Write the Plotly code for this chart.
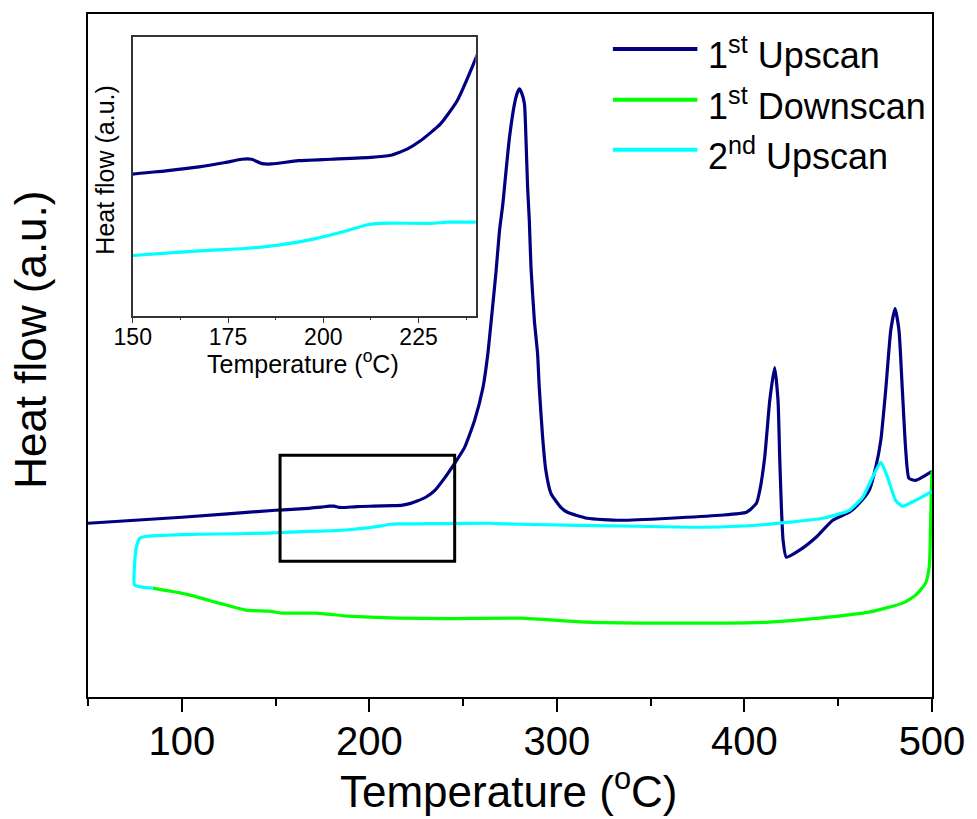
import plotly.graph_objects as go

# ---------------- data ----------------
# 1st Upscan
navy_x = [50, 100, 150, 158.7, 167.4, 174.3, 178.6, 181.2, 183.9, 186.5, 193.4, 202.1, 212.5, 217.7,
          222.0, 225.5, 230.7, 235.1, 239.4, 245.5, 250.8, 256.1, 260.6, 263.2, 265.0, 267.6, 269.4,
          271.2, 272.9, 274.7, 277.4, 278.9, 280.0, 281.2, 282.7, 283.5, 284.4, 285.3, 286.2, 288.0,
          289.7, 290.6, 292.4, 294.1, 296.8, 302.1, 305.6, 316.2, 333.7, 360.3, 386.8, 401.1, 406.4,
          408.2, 410.8, 413.5, 416.1, 417.9, 418.8, 419.7, 420.6, 422.3, 429.4, 438.2, 447.1, 455.9,
          461.2, 466.5, 470.0, 472.7, 475.3, 478.0, 480.3, 482.4, 484.2, 486.0, 487.7, 491.3, 500.0]
navy_y = [17.4, 18.0, 18.70, 18.79, 18.90, 19.02, 19.11, 19.11, 18.99, 18.98, 19.07, 19.11, 19.16, 19.22,
          19.39, 19.62, 20.08, 20.72, 21.74, 23.4, 25.0, 27.7, 31.0, 34.4, 37.7, 42.7, 46.7,
          49.4, 52.7, 56.0, 59.4, 60.5, 60.9, 60.5, 59.4, 56.0, 51.0, 47.7, 43.0, 37.7,
          34.4, 31.0, 26.0, 22.7, 20.4, 19.0, 18.5, 17.9, 17.7, 17.9, 18.2, 18.5, 19.4,
          20.7, 24.0, 29.7, 33.0, 29.7, 24.0, 19.0, 15.7, 14.0, 14.7, 16.0, 17.7, 18.5,
          19.4, 20.7, 23.0, 25.7, 30.7, 36.7, 38.9, 36.7, 30.7, 24.7, 21.9, 21.7, 22.6]

# 1st Downscan (recorded from 500 down to ~85)
green_x = [500, 499.5, 499.0, 498.5, 496.6, 491.3, 484.4, 466.3, 439.8, 413.3, 386.8, 351.8, 316.2,
           280.7, 242.0, 215.5, 189.0, 171.5, 153.4, 146.5, 134.2, 120.0, 102.3, 84.6]
green_y = [22.6, 19.5, 15.0, 13.0, 11.4, 10.2, 9.4, 8.5, 7.9, 7.5, 7.4, 7.4, 7.5,
           7.9, 7.85, 7.9, 8.1, 8.4, 8.4, 8.6, 8.7, 9.4, 10.3, 10.9]

# 2nd Upscan
cyan_x = [84.6, 74.9, 74.9, 75.8, 77.6, 81.1, 91.7, 109.4, 130.6, 146.5, 150, 167.4, 180.4, 189.1,
          197.7, 206.4, 211.6, 215.1, 228.1, 232.5, 239.4, 263.2, 280.7, 342.8, 378.3, 406.4, 441.8,
          455.9, 463.0, 468.3, 472.7, 476.3, 480.6, 484.2, 491.3, 500]
cyan_y = [10.9, 11.2, 13.4, 15.0, 15.9, 16.1, 16.2, 16.3, 16.35, 16.42, 16.45, 16.58, 16.65, 16.75,
          16.91, 17.14, 17.30, 17.34, 17.34, 17.37, 17.37, 17.4, 17.3, 17.1, 17.0, 17.2, 17.9,
          18.7, 20.0, 22.0, 23.5, 22.0, 19.7, 19.1, 19.7, 20.6]

series_names = ["1<sup>st</sup> Upscan", "1<sup>st</sup> Downscan", "2<sup>nd</sup> Upscan"]
series_colors = ["#000080", "#00FF00", "#00FFFF"]

main_xticks = [100, 200, 300, 400, 500]
main_xminor = [50, 150, 250, 350, 450]
inset_xticks = [150, 175, 200, 225]
inset_xminor = [162.5, 187.5, 212.5, 237.5]

x_title = "Temperature (<sup>o</sup>C)"
y_title = "Heat flow (a.u.)"

# zoom box region (data coords)
box_x = [152.4, 245.5]
box_y = [13.6, 24.2]

FONT = "Liberation Sans, Arial, sans-serif"

fig = go.Figure()

series = [(navy_x, navy_y), (green_x, green_y), (cyan_x, cyan_y)]
for (xs, ys), name, col in zip(series, series_names, series_colors):
    fig.add_trace(go.Scatter(x=xs, y=ys, mode="lines", name=name,
                             line=dict(color=col, width=3.2, shape="spline", smoothing=0.5),
                             showlegend=False, xaxis="x", yaxis="y"))

# inset traces (same data, zoomed)
for (xs, ys), col in [((navy_x, navy_y), series_colors[0]), ((cyan_x, cyan_y), series_colors[2])]:
    fig.add_trace(go.Scatter(x=xs, y=ys, mode="lines",
                             line=dict(color=col, width=3.2, shape="spline", smoothing=0.5),
                             showlegend=False, xaxis="x2", yaxis="y2"))

# plot-area geometry
W, H = 977, 819
L, R, T, B = 88, 40, 13, 122
PW, PH = W - L - R, H - T - B

def px(x):
    return (x - L) / PW

def py(y):
    return (H - B - y) / PH

fig.update_layout(
    width=W, height=H,
    margin=dict(l=L, r=R, t=T, b=B),
    paper_bgcolor="white", plot_bgcolor="white",
    font=dict(family=FONT, color="black"),
    xaxis=dict(domain=[0, 1], range=[50, 500], showline=True, linecolor="black", linewidth=2,
               mirror=True, ticks="outside", ticklen=13, tickwidth=2, tickcolor="black",
               tickvals=main_xticks, tickfont=dict(size=40, family=FONT), ticklabelstandoff=-5,
               minor=dict(tickvals=main_xminor, ticks="outside", ticklen=7, tickwidth=2,
                          tickcolor="black"),
               showgrid=False, zeroline=False),
    yaxis=dict(domain=[0, 1], range=[0, 68.4], showline=True, linecolor="black", linewidth=2,
               mirror=True, ticks="", showticklabels=False, showgrid=False, zeroline=False),
    xaxis2=dict(domain=[px(133), px(478)], anchor="y2", range=[150, 240], showline=True,
                linecolor="#333333", linewidth=1.5, mirror=True, ticks="outside", ticklen=6,
                tickwidth=1.2, tickcolor="#333333", tickvals=inset_xticks,
                tickfont=dict(size=23, family=FONT), ticklabelstandoff=-6,
                minor=dict(tickvals=inset_xminor, ticks="outside", ticklen=3, tickwidth=1.2,
                           tickcolor="#333333"),
                showgrid=False, zeroline=False),
    yaxis2=dict(domain=[py(315), py(36)], anchor="x2", range=[14.79, 22.49], showline=True,
                linecolor="#333333", linewidth=1.5, mirror=True, ticks="", showticklabels=False,
                showgrid=False, zeroline=False),
)

# zoom rectangle
fig.add_shape(type="rect", xref="x", yref="y", x0=box_x[0], x1=box_x[1], y0=box_y[0], y1=box_y[1],
              line=dict(color="black", width=3), fillcolor="rgba(0,0,0,0)")

# axis titles
fig.add_annotation(text=x_title, xref="paper", yref="paper", x=px(511), y=py(789),
                   xanchor="center", yanchor="middle", showarrow=False,
                   font=dict(size=44, family=FONT))
fig.add_annotation(text=y_title, xref="paper", yref="paper", x=px(30), y=py(339),
                   xanchor="center", yanchor="middle", textangle=-90, showarrow=False,
                   font=dict(size=44, family=FONT))
# inset titles
fig.add_annotation(text=x_title, xref="paper", yref="paper", x=px(304), y=py(362),
                   xanchor="center", yanchor="middle", showarrow=False,
                   font=dict(size=25, family=FONT))
fig.add_annotation(text=y_title, xref="paper", yref="paper", x=px(105), y=py(169),
                   xanchor="center", yanchor="middle", textangle=-90, showarrow=False,
                   font=dict(size=25, family=FONT))

# legend (drawn manually for long line samples)
legend_rows = [48, 99, 149]
for yy, name, col in zip(legend_rows, series_names, series_colors):
    fig.add_shape(type="line", xref="paper", yref="paper", x0=px(616), x1=px(701),
                  y0=py(yy), y1=py(yy), line=dict(color=col, width=4))
    fig.add_annotation(text=name, xref="paper", yref="paper", x=px(710), y=py(yy + 4),
                       xanchor="left", yanchor="middle", showarrow=False,
                       font=dict(size=36, family=FONT))

fig.write_html("out.html")
